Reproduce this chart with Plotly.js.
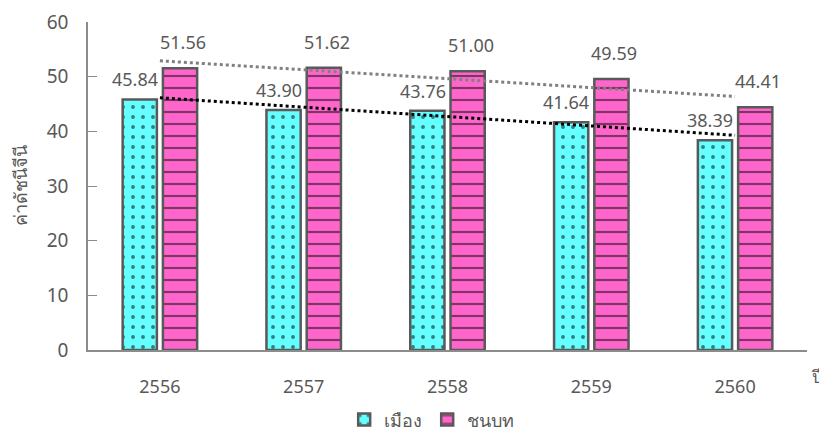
<!DOCTYPE html>
<html><head><meta charset="utf-8">
<script src="https://cdn.plot.ly/plotly-3.0.1.min.js"></script>
<style>html,body{margin:0;padding:0;background:#fff}#chart{width:819px;height:431px}</style>
</head><body><div id="chart"></div>
<script>
const years = ['2556','2557','2558','2559','2560'];
const urban = [45.84, 43.90, 43.76, 41.64, 38.39];
const rural = [51.56, 51.62, 51.00, 49.59, 44.41];
const urbanName = 'เมือง';
const ruralName = 'ชนบท';
const yTitle = 'ค่าดัชนีจีนี';
const xTitle = 'ปี';

function linfit(ys){
  const n = ys.length, xs = ys.map((_,i)=>i+1);
  const mx = xs.reduce((a,b)=>a+b)/n, my = ys.reduce((a,b)=>a+b)/n;
  let sxy=0, sxx=0;
  xs.forEach((x,i)=>{sxy+=(x-mx)*(ys[i]-my); sxx+=(x-mx)*(x-mx);});
  const b = sxy/sxx, a = my - b*mx;
  return xs.map(x=>a+b*x);
}

const font = "'Noto Sans', 'Liberation Sans', sans-serif";
const grey = '#595959';

const traces = [
  {type:'bar', name:urbanName, x:years, y:urban,
   marker:{color:'#66FFFF', line:{color:grey, width:2.5},
     pattern:{shape:'.', fgcolor:'#000', bgcolor:'#66FFFF', size:10, solidity:0.12, fillmode:'overlay'}}},
  {type:'bar', name:ruralName, x:years, y:rural,
   marker:{color:'#FF66CC', line:{color:grey, width:2.5},
     pattern:{shape:'-', fgcolor:'#000', bgcolor:'#FF66CC', size:12, solidity:0.18, fillmode:'overlay'}}},
  {type:'scatter', mode:'lines', x:years, y:linfit(urban), showlegend:false, hoverinfo:'skip',
   line:{color:'#000', width:3, dash:'dot'}},
  {type:'scatter', mode:'lines', x:years, y:linfit(rural), showlegend:false, hoverinfo:'skip',
   line:{color:'#808080', width:3, dash:'dot'}}
];

const annotations = [];
years.forEach((yr,i)=>{
  annotations.push({x:i, y:urban[i], xref:'x', yref:'y', text:urban[i].toFixed(2), showarrow:false,
    yanchor:'middle', yshift:20, xshift:-25, font:{size:18, color:grey, family:font}});
  annotations.push({x:i, y:rural[i], xref:'x', yref:'y', text:rural[i].toFixed(2), showarrow:false,
    yanchor:'middle', yshift:26, xshift:23, font:{size:18, color:grey, family:font}});
});
annotations.push({x:1.0, y:0, xref:'paper', yref:'paper', text:xTitle, showarrow:false,
  xanchor:'left', yanchor:'middle', xshift:2, yshift:-26, font:{size:17, color:grey, family:font}});

const layout = {
  width:819, height:431,
  margin:{l:88, r:12, t:22, b:81, autoexpand:false},
  paper_bgcolor:'#fff', plot_bgcolor:'#fff',
  font:{family:font, color:grey, size:17},
  barmode:'group', bargap:0.44, bargroupgap:0.15,
  showlegend:true,
  legend:{orientation:'h', x:0.478, xanchor:'center', y:-0.213, yanchor:'middle',
    font:{size:18, color:grey, family:font}, traceorder:'normal', itemwidth:30},
  xaxis:{type:'category', range:[-0.5,4.5], showline:true, linecolor:'#8C8C8C', linewidth:1.5, ticks:'',
    showgrid:false, zeroline:false, ticklabelstandoff:20, tickfont:{size:18, color:grey}, automargin:false},
  yaxis:{range:[0,60], dtick:10, showline:true, linecolor:'#8C8C8C', linewidth:1.5,
    ticks:'inside', ticklen:9, tickcolor:'#8C8C8C', showgrid:false, zeroline:false,
    tickfont:{size:19, color:grey}, ticklabelstandoff:14, automargin:false,
    title:{text:yTitle, font:{size:18, color:grey}, standoff:14}},
  annotations:annotations
};
Plotly.newPlot('chart', traces, layout, {displayModeBar:false});
</script></body></html>
